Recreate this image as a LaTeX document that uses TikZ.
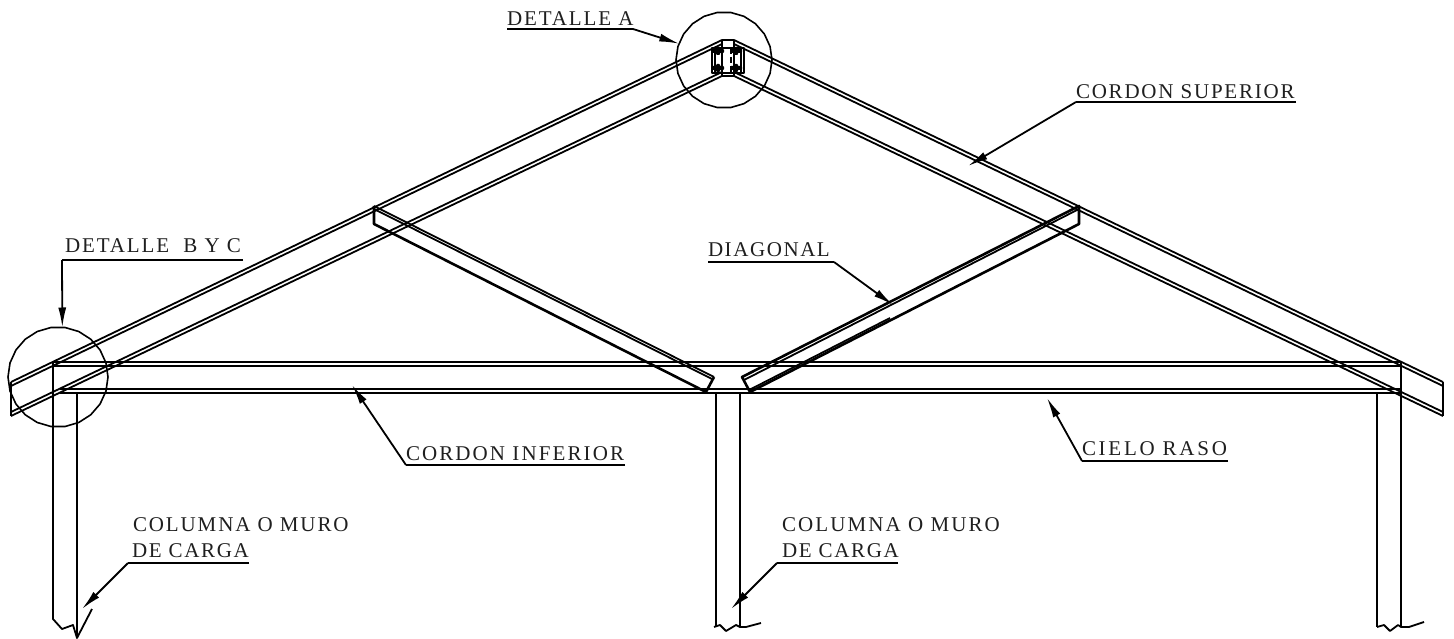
\documentclass[tikz,border=0pt]{standalone}
\usepackage{fontspec}
\setmainfont{Liberation Serif}
\usetikzlibrary{arrows.meta,shapes.geometric}
\newcommand{\lsp}[2]{\addfontfeature{LetterSpace=#1}#2}
\tikzset{
  beam/.style={line width=1.8pt,line join=round},
  heavy/.style={line width=2.6pt,line join=round},
  ring/.style={draw,line width=1.6pt,regular polygon,regular polygon sides=22,inner sep=0pt,outer sep=0pt},
  lab/.style={anchor=base west,inner sep=0pt,outer sep=0pt,font=\fontsize{21pt}{21pt}\selectfont,text=black!88},
  lead/.style={line width=1.8pt,line join=round,-{Latex[length=20pt,width=8pt]}},
  rule/.style={line width=1.9pt},
  bolt/.style={fill=black,draw=none,rounded corners=1pt},
  hid/.style={line width=1.4pt,dash pattern=on 6pt off 3pt}
}
\begin{document}
\begin{tikzpicture}[x=1pt,y=-1pt]
\useasboundingbox[fill=white] (0,0) rectangle (1454,639);
% top chords
\draw[beam] (11,382) -- (722,40);
\draw[beam] (11,386) -- (722,44);
\draw[beam] (11,412) -- (722,72);
\draw[beam] (11,416) -- (722,76);
\draw[beam] (11,382) -- (11,416);
\draw[beam] (734,40) -- (1443,382);
\draw[beam] (734,44) -- (1443,386);
\draw[beam] (734,72) -- (1443,412);
\draw[beam] (734,76) -- (1443,416);
\draw[beam] (1443,382) -- (1443,416);
% apex
\draw[beam] (722,40) -- (734,40) (722,40) -- (722,76) (734,40) -- (734,76) (722,76) -- (734,76);
\draw[beam] (712,48) rectangle (744,73);
\draw[beam] (715,48) -- (715,73) (741,48) -- (741,73);
\draw[hid] (722,48) -- (722,73) (731,48) -- (731,73);
\foreach \bx/\by in {718/51,736/51,718/68,736/68}
  \draw[bolt] (\bx-6,\by-2) rectangle (\bx+6,\by+2) (\bx-2,\by-4) rectangle (\bx+2,\by+4);
% bottom chord
\draw[beam] (53,362) -- (1402,362) (53,366) -- (1402,366);
\draw[beam] (60,389) -- (1402,389) (60,393) -- (1402,393);
% columns
\draw[beam] (53,362) -- (53,619) -- (62,629) -- (73,625) -- (77,638) -- (92,609);
\draw[beam] (77,393) -- (77,638);
\draw[beam] (716,393) -- (716,627);
\draw[beam] (740,393) -- (740,627);
\draw[beam] (714,627) -- (720,625) -- (726,631) -- (736,625) -- (740,627) -- (746,627) -- (761,623);
\draw[beam] (1377,393) -- (1377,627);
\draw[beam] (1401,362) -- (1401,627);
\draw[beam] (1377,627) -- (1384,625) -- (1390,631) -- (1398,625) -- (1401,627) -- (1409,627) -- (1424,622);
% diagonals
\draw[beam] (374,206) -- (714,377);
\draw[beam] (374,209) -- (712,379);
\draw[heavy] (374,206) -- (374,224) -- (706,392) -- (714,377);
\draw[heavy] (1079,206) -- (742,377) -- (750,392) -- (1079,224) -- cycle;
\draw[beam] (1079,209) -- (744,380);
\draw[beam] (890,318) -- (751,389);
% detail circles
\node[ring,minimum size=96pt] (detA) at (724,60) {};
\node[ring,minimum size=100pt] (detB) at (58,377) {};
% labels
\node[lab] (tA) at (507,26) {\lsp{9}{DETALLE A}};
\coordinate (uA0) at (507,29); \coordinate (uA1) at (633,29);
\draw[rule] (uA0) -- (uA1);
\draw[lead] (uA1) -- (detA.160);

\node[lab] (tS) at (1076,99) {\lsp{8.5}{CORDON SUPERIOR}};
\coordinate (uS0) at (1296,102); \coordinate (uS1) at (1076,102); \coordinate (tipS) at (968,166);
\draw[rule] (uS0) -- (uS1);
\draw[lead] (uS1) -- (tipS);

\node[lab] (tB) at (65,253) {\lsp{9}{DETALLE\ \ B Y C}};
\coordinate (uB0) at (243,260); \coordinate (uB1) at (62,260);
\draw[rule] (uB0) -- (uB1);
\draw[lead] (uB1) -- (detB.85);

\node[lab] (tD) at (708,257) {\lsp{7.5}{DIAGONAL}};
\coordinate (uD0) at (708,262); \coordinate (uD1) at (834,262); \coordinate (tipD) at (893,305);
\draw[rule] (uD0) -- (uD1);
\draw[lead] (uD1) -- (tipD);

\node[lab] (tI) at (406,460) {\lsp{10}{CORDON INFERIOR}};
\coordinate (uI0) at (625,465); \coordinate (uI1) at (406,465); \coordinate (tipI) at (352,385);
\draw[rule] (uI0) -- (uI1);
\draw[lead] (uI1) -- (tipI);

\node[lab] (tC) at (1082,455) {\lsp{13}{CIELO RASO}};
\coordinate (uC0) at (1228,461); \coordinate (uC1) at (1082,461); \coordinate (tipC) at (1047,398);
\draw[rule] (uC0) -- (uC1);
\draw[lead] (uC1) -- (tipC);

\node[lab] (tL1) at (133,531) {\lsp{9}{COLUMNA O MURO}};
\node[lab] (tL2) at (132,557) {\lsp{8}{DE CARGA}};
\coordinate (uL0) at (249,563); \coordinate (uL1) at (128,563); \coordinate (tipL) at (82,609);
\draw[rule] (uL0) -- (uL1);
\draw[lead] (uL1) -- (tipL);

\node[lab] (tM1) at (782,531) {\lsp{10}{COLUMNA O MURO}};
\node[lab] (tM2) at (782,557) {\lsp{8}{DE CARGA}};
\coordinate (uM0) at (898,563); \coordinate (uM1) at (777,563); \coordinate (tipM) at (731,609);
\draw[rule] (uM0) -- (uM1);
\draw[lead] (uM1) -- (tipM);
\end{tikzpicture}
\end{document}
